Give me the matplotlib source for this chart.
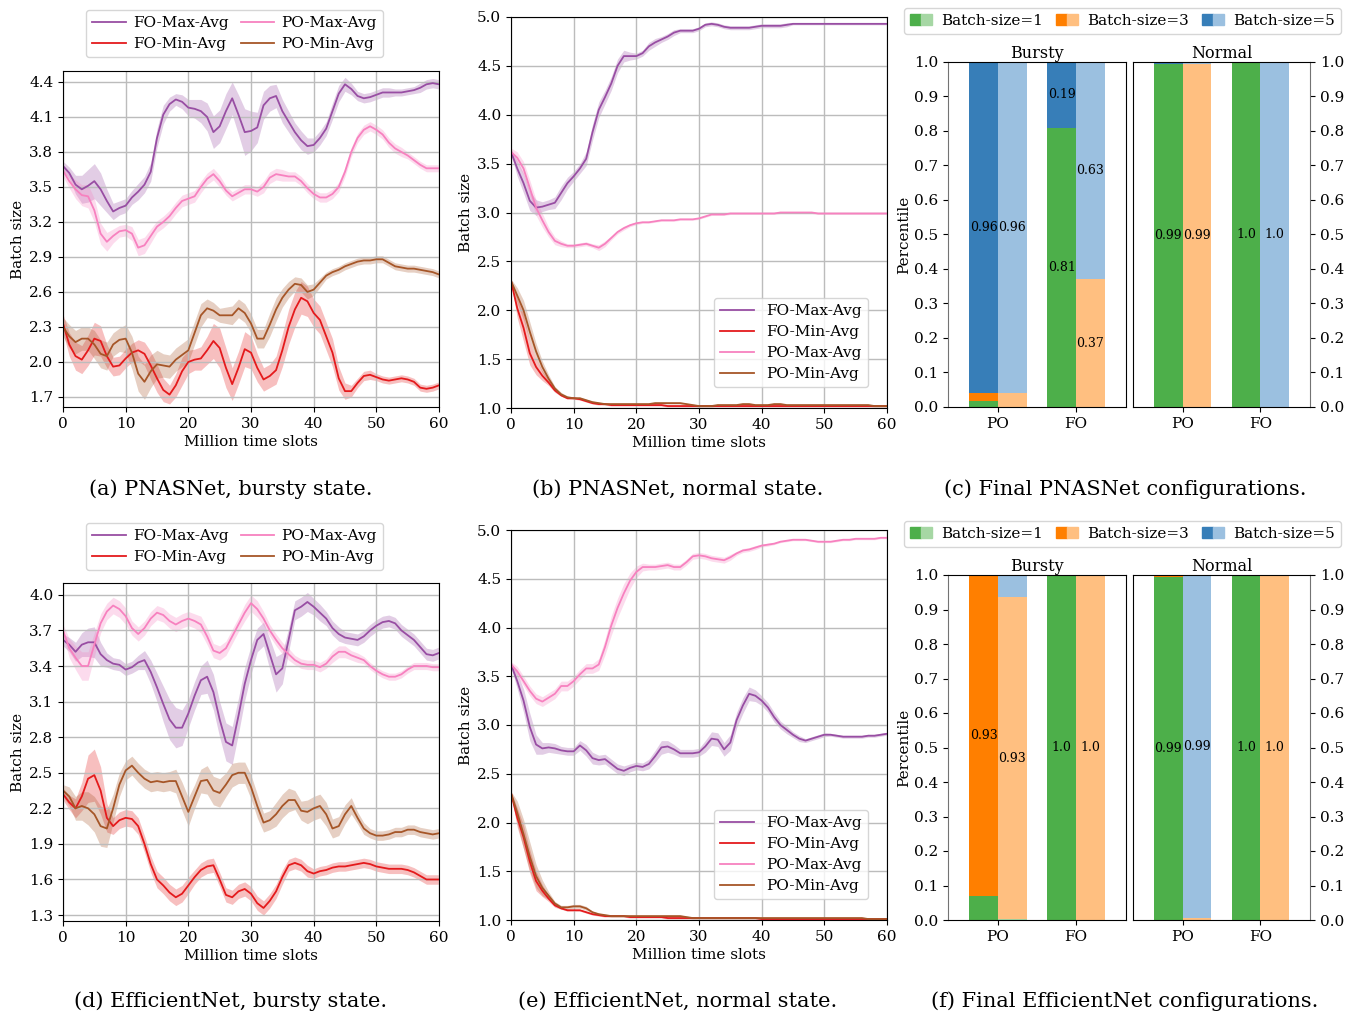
import numpy as np
import matplotlib
matplotlib.use("Agg")
import matplotlib.pyplot as plt
from matplotlib.patches import Patch
from matplotlib.legend_handler import HandlerTuple

plt.rcParams['font.family'] = 'DejaVu Serif'
plt.rcParams['font.size'] = 11

# ---------------- data ----------------
time_slots = list(range(61))  # million time slots
series_names = ['FO-Max-Avg', 'FO-Min-Avg', 'PO-Max-Avg', 'PO-Min-Avg']
line_colors = ['#984ea3', '#e41a1c', '#f781bf', '#a65628']

# (a) PNASNet, bursty state: mean and half band
pnas_bursty_fo_max = [3.68, 3.62, 3.52, 3.48, 3.51, 3.55, 3.48, 3.38, 3.29, 3.32,
                      3.34, 3.41, 3.46, 3.52, 3.63, 3.92, 4.12, 4.21, 4.25, 4.23,
                      4.18, 4.17, 4.15, 4.10, 3.97, 4.02, 4.15, 4.26, 4.12, 3.97,
                      3.98, 4.01, 4.20, 4.26, 4.28, 4.15, 4.06, 3.97, 3.90, 3.85,
                      3.86, 3.92, 4.00, 4.15, 4.30, 4.38, 4.34, 4.28, 4.26, 4.27,
                      4.29, 4.31, 4.31, 4.31, 4.31, 4.32, 4.33, 4.35, 4.38, 4.39, 4.38]
pnas_bursty_fo_max_sd = [0.04, 0.05, 0.08, 0.12, 0.14, 0.15, 0.14, 0.10, 0.07, 0.06,
                         0.06, 0.06, 0.07, 0.07, 0.08, 0.08, 0.08, 0.06, 0.05, 0.06,
                         0.07, 0.08, 0.10, 0.12, 0.14, 0.14, 0.15, 0.14, 0.17, 0.20,
                         0.17, 0.13, 0.12, 0.11, 0.10, 0.10, 0.09, 0.08, 0.08, 0.07,
                         0.06, 0.06, 0.06, 0.07, 0.07, 0.06, 0.05, 0.04, 0.04, 0.04,
                         0.04, 0.04, 0.04, 0.03, 0.03, 0.03, 0.03, 0.04, 0.04, 0.04, 0.04]
pnas_bursty_fo_min = [2.33, 2.15, 2.05, 2.02, 2.10, 2.20, 2.18, 2.05, 1.96, 1.97,
                      2.03, 2.08, 2.10, 2.07, 1.97, 1.86, 1.76, 1.72, 1.80, 1.92,
                      2.00, 2.02, 2.03, 2.10, 2.18, 2.12, 1.95, 1.81, 1.95, 2.11,
                      2.08, 1.95, 1.85, 1.88, 1.93, 2.10, 2.30, 2.45, 2.55, 2.52,
                      2.42, 2.36, 2.22, 2.08, 1.86, 1.75, 1.75, 1.82, 1.88, 1.89,
                      1.87, 1.85, 1.84, 1.85, 1.86, 1.85, 1.83, 1.78, 1.77, 1.78, 1.80]
pnas_bursty_fo_min_sd = [0.08, 0.10, 0.12, 0.12, 0.13, 0.14, 0.13, 0.10, 0.08, 0.08,
                         0.08, 0.08, 0.09, 0.10, 0.12, 0.12, 0.10, 0.08, 0.10, 0.12,
                         0.10, 0.09, 0.10, 0.12, 0.15, 0.17, 0.17, 0.14, 0.14, 0.15,
                         0.14, 0.12, 0.10, 0.10, 0.12, 0.14, 0.15, 0.15, 0.14, 0.13,
                         0.12, 0.12, 0.12, 0.12, 0.10, 0.07, 0.05, 0.04, 0.04, 0.04,
                         0.03, 0.03, 0.03, 0.03, 0.03, 0.03, 0.03, 0.03, 0.03, 0.03, 0.03]
pnas_bursty_po_max = [3.64, 3.55, 3.48, 3.43, 3.42, 3.30, 3.10, 3.03, 3.08, 3.12,
                      3.13, 3.10, 2.98, 3.00, 3.08, 3.16, 3.20, 3.25, 3.32, 3.38,
                      3.40, 3.42, 3.50, 3.57, 3.61, 3.55, 3.47, 3.42, 3.45, 3.48,
                      3.48, 3.46, 3.50, 3.58, 3.61, 3.60, 3.59, 3.59, 3.55, 3.49,
                      3.44, 3.41, 3.41, 3.44, 3.50, 3.63, 3.80, 3.92, 3.99, 4.02,
                      3.99, 3.95, 3.88, 3.83, 3.80, 3.77, 3.73, 3.69, 3.66, 3.66, 3.66]
pnas_bursty_po_max_sd = [0.05, 0.06, 0.08, 0.09, 0.10, 0.10, 0.09, 0.08, 0.06, 0.05,
                         0.05, 0.06, 0.07, 0.07, 0.06, 0.05, 0.05, 0.05, 0.05, 0.05,
                         0.05, 0.05, 0.05, 0.05, 0.05, 0.05, 0.04, 0.04, 0.04, 0.04,
                         0.04, 0.04, 0.05, 0.05, 0.05, 0.05, 0.04, 0.04, 0.04, 0.04,
                         0.04, 0.04, 0.04, 0.04, 0.04, 0.04, 0.04, 0.04, 0.04, 0.04,
                         0.04, 0.04, 0.04, 0.04, 0.04, 0.03, 0.03, 0.03, 0.03, 0.03, 0.03]
pnas_bursty_po_min = [2.30, 2.22, 2.17, 2.20, 2.20, 2.15, 2.07, 2.05, 2.15, 2.19,
                      2.20, 2.08, 1.90, 1.83, 1.92, 1.98, 1.97, 1.96, 2.02, 2.06,
                      2.10, 2.25, 2.40, 2.46, 2.44, 2.40, 2.40, 2.40, 2.46, 2.42,
                      2.33, 2.20, 2.20, 2.32, 2.45, 2.55, 2.62, 2.67, 2.66, 2.60,
                      2.62, 2.68, 2.74, 2.77, 2.79, 2.82, 2.84, 2.86, 2.87, 2.87,
                      2.88, 2.88, 2.85, 2.82, 2.81, 2.80, 2.80, 2.79, 2.78, 2.77, 2.75]
pnas_bursty_po_min_sd = [0.08, 0.10, 0.10, 0.10, 0.10, 0.12, 0.12, 0.12, 0.10, 0.10,
                         0.12, 0.14, 0.15, 0.15, 0.14, 0.12, 0.10, 0.10, 0.10, 0.10,
                         0.10, 0.10, 0.10, 0.08, 0.07, 0.06, 0.07, 0.08, 0.08, 0.08,
                         0.08, 0.08, 0.08, 0.10, 0.10, 0.08, 0.07, 0.06, 0.06, 0.06,
                         0.05, 0.04, 0.03, 0.03, 0.03, 0.03, 0.03, 0.03, 0.03, 0.03,
                         0.03, 0.03, 0.03, 0.03, 0.03, 0.03, 0.03, 0.03, 0.03, 0.03, 0.03]

# (b) PNASNet, normal state
pnas_normal_fo_max = [3.62, 3.45, 3.30, 3.12, 3.05, 3.06, 3.08, 3.10, 3.20, 3.30,
                      3.37, 3.45, 3.55, 3.82, 4.05, 4.18, 4.32, 4.50, 4.60, 4.60,
                      4.60, 4.63, 4.70, 4.74, 4.77, 4.80, 4.84, 4.86, 4.86, 4.86,
                      4.88, 4.92, 4.93, 4.92, 4.90, 4.89, 4.89, 4.89, 4.89, 4.90,
                      4.91, 4.91, 4.91, 4.91, 4.92, 4.93, 4.93, 4.93, 4.93, 4.93,
                      4.93, 4.93, 4.93, 4.93, 4.93, 4.93, 4.93, 4.93, 4.93, 4.93, 4.93]
pnas_normal_fo_max_sd = [0.03, 0.08, 0.10, 0.10, 0.08, 0.05, 0.05, 0.06, 0.07, 0.06,
                         0.05, 0.05, 0.07, 0.08, 0.08, 0.07, 0.07, 0.07, 0.06, 0.04,
                         0.03, 0.03, 0.04, 0.04, 0.03, 0.03, 0.03, 0.02, 0.02, 0.02,
                         0.02, 0.02, 0.02, 0.02, 0.02, 0.02, 0.02, 0.02, 0.02, 0.02,
                         0.02, 0.02, 0.02, 0.02, 0.02, 0.01, 0.01, 0.01, 0.01, 0.01,
                         0.01, 0.01, 0.01, 0.01, 0.01, 0.01, 0.01, 0.01, 0.01, 0.01, 0.01]
pnas_normal_fo_min = [2.30, 2.02, 1.82, 1.56, 1.42, 1.33, 1.26, 1.18, 1.13, 1.10,
                      1.10, 1.09, 1.07, 1.05, 1.04, 1.04, 1.03, 1.03, 1.03, 1.03,
                      1.03, 1.03, 1.03, 1.03, 1.03, 1.02, 1.02, 1.02, 1.02, 1.02,
                      1.02, 1.02, 1.02, 1.02, 1.02, 1.02, 1.02, 1.02, 1.02, 1.02,
                      1.02, 1.02, 1.02, 1.02, 1.02, 1.02, 1.02, 1.02, 1.02, 1.02,
                      1.02, 1.02, 1.02, 1.02, 1.02, 1.02, 1.02, 1.02, 1.02, 1.02, 1.02]
pnas_normal_fo_min_sd = [0.02, 0.10, 0.14, 0.12, 0.08, 0.05, 0.03, 0.02, 0.01, 0.01,
                         0.01, 0.01, 0.01, 0.01, 0.01, 0.01, 0.01, 0.01, 0.01, 0.01,
                         0.01, 0.01, 0.01, 0.01, 0.01, 0.01, 0.01, 0.01, 0.01, 0.01,
                         0.01, 0.01, 0.01, 0.01, 0.01, 0.01, 0.01, 0.01, 0.01, 0.01,
                         0.01, 0.01, 0.01, 0.01, 0.01, 0.01, 0.01, 0.01, 0.01, 0.01,
                         0.01, 0.01, 0.01, 0.01, 0.01, 0.01, 0.01, 0.01, 0.01, 0.01, 0.01]
pnas_normal_po_max = [3.62, 3.56, 3.45, 3.25, 3.05, 2.92, 2.80, 2.71, 2.68, 2.66,
                      2.66, 2.67, 2.68, 2.66, 2.64, 2.68, 2.74, 2.80, 2.84, 2.87,
                      2.89, 2.90, 2.90, 2.91, 2.92, 2.92, 2.92, 2.93, 2.93, 2.93,
                      2.94, 2.96, 2.98, 2.98, 2.98, 2.99, 2.99, 2.99, 2.99, 2.99,
                      2.99, 2.99, 2.99, 3.00, 3.00, 3.00, 3.00, 3.00, 3.00, 2.99,
                      2.99, 2.99, 2.99, 2.99, 2.99, 2.99, 2.99, 2.99, 2.99, 2.99, 2.99]
pnas_normal_po_max_sd = [0.04, 0.06, 0.07, 0.08, 0.08, 0.07, 0.05, 0.04, 0.03, 0.02,
                         0.02, 0.02, 0.02, 0.02, 0.03, 0.03, 0.02, 0.02, 0.02, 0.015,
                         0.015, 0.01, 0.01, 0.01, 0.01, 0.01, 0.01, 0.01, 0.01, 0.01,
                         0.01, 0.01, 0.01, 0.01, 0.01, 0.01, 0.01, 0.01, 0.01, 0.01,
                         0.01, 0.01, 0.01, 0.01, 0.01, 0.01, 0.01, 0.01, 0.01, 0.01,
                         0.01, 0.01, 0.01, 0.01, 0.01, 0.01, 0.01, 0.01, 0.01, 0.01, 0.01]
pnas_normal_po_min = [2.30, 2.15, 2.00, 1.78, 1.58, 1.42, 1.30, 1.20, 1.14, 1.11,
                      1.10, 1.10, 1.08, 1.06, 1.05, 1.04, 1.04, 1.04, 1.04, 1.04,
                      1.04, 1.04, 1.04, 1.05, 1.05, 1.05, 1.05, 1.05, 1.04, 1.03,
                      1.02, 1.02, 1.02, 1.03, 1.03, 1.03, 1.03, 1.04, 1.04, 1.03,
                      1.03, 1.03, 1.04, 1.04, 1.03, 1.03, 1.03, 1.03, 1.03, 1.03,
                      1.03, 1.03, 1.03, 1.03, 1.03, 1.03, 1.03, 1.03, 1.02, 1.02, 1.02]
pnas_normal_po_min_sd = [0.02, 0.08, 0.10, 0.10, 0.08, 0.06, 0.04, 0.02, 0.02, 0.01,
                         0.01, 0.01, 0.01, 0.01, 0.01, 0.01, 0.01, 0.01, 0.01, 0.01,
                         0.01, 0.01, 0.01, 0.01, 0.01, 0.01, 0.01, 0.01, 0.01, 0.01,
                         0.01, 0.01, 0.01, 0.01, 0.01, 0.01, 0.01, 0.01, 0.01, 0.01,
                         0.01, 0.01, 0.01, 0.01, 0.01, 0.01, 0.01, 0.01, 0.01, 0.01,
                         0.01, 0.01, 0.01, 0.01, 0.01, 0.01, 0.01, 0.01, 0.01, 0.01, 0.01]

# (d) EfficientNet, bursty state
eff_bursty_fo_max = [3.62, 3.58, 3.52, 3.58, 3.60, 3.60, 3.50, 3.45, 3.42, 3.41,
                     3.37, 3.39, 3.43, 3.45, 3.35, 3.22, 3.08, 2.95, 2.88, 2.88,
                     3.00, 3.15, 3.28, 3.31, 3.18, 2.95, 2.76, 2.73, 2.98, 3.25,
                     3.45, 3.62, 3.67, 3.50, 3.33, 3.38, 3.62, 3.87, 3.90, 3.94,
                     3.90, 3.85, 3.80, 3.72, 3.67, 3.64, 3.63, 3.62, 3.65, 3.70,
                     3.74, 3.77, 3.78, 3.76, 3.70, 3.66, 3.62, 3.56, 3.50, 3.49, 3.51]
eff_bursty_fo_max_sd = [0.05, 0.06, 0.08, 0.10, 0.12, 0.13, 0.10, 0.06, 0.05, 0.05,
                        0.05, 0.05, 0.06, 0.08, 0.10, 0.12, 0.15, 0.17, 0.17, 0.15,
                        0.12, 0.12, 0.12, 0.14, 0.15, 0.15, 0.16, 0.16, 0.15, 0.14,
                        0.12, 0.10, 0.10, 0.13, 0.15, 0.13, 0.10, 0.08, 0.08, 0.08,
                        0.07, 0.07, 0.06, 0.06, 0.06, 0.05, 0.05, 0.05, 0.05, 0.05,
                        0.05, 0.05, 0.05, 0.05, 0.05, 0.05, 0.05, 0.05, 0.05, 0.05, 0.05]
eff_bursty_fo_min = [2.32, 2.25, 2.20, 2.30, 2.45, 2.48, 2.35, 2.12, 2.05, 2.10,
                     2.12, 2.11, 2.05, 1.90, 1.73, 1.60, 1.55, 1.49, 1.45, 1.48,
                     1.55, 1.62, 1.68, 1.71, 1.72, 1.60, 1.47, 1.45, 1.50, 1.52,
                     1.48, 1.40, 1.36, 1.42, 1.50, 1.62, 1.72, 1.74, 1.72, 1.67,
                     1.65, 1.67, 1.68, 1.70, 1.71, 1.71, 1.72, 1.73, 1.74, 1.73,
                     1.71, 1.70, 1.69, 1.69, 1.69, 1.68, 1.66, 1.63, 1.60, 1.60, 1.60]
eff_bursty_fo_min_sd = [0.05, 0.06, 0.08, 0.12, 0.20, 0.22, 0.20, 0.12, 0.07, 0.07,
                        0.07, 0.07, 0.07, 0.07, 0.07, 0.07, 0.07, 0.07, 0.07, 0.07,
                        0.07, 0.06, 0.06, 0.06, 0.06, 0.06, 0.06, 0.06, 0.06, 0.06,
                        0.06, 0.06, 0.06, 0.06, 0.06, 0.06, 0.05, 0.05, 0.05, 0.05,
                        0.04, 0.04, 0.04, 0.04, 0.04, 0.04, 0.04, 0.04, 0.04, 0.04,
                        0.04, 0.04, 0.04, 0.04, 0.04, 0.04, 0.04, 0.04, 0.04, 0.04, 0.04]
eff_bursty_po_max = [3.70, 3.55, 3.47, 3.40, 3.40, 3.58, 3.76, 3.86, 3.91, 3.88,
                     3.82, 3.72, 3.67, 3.72, 3.80, 3.85, 3.83, 3.78, 3.75, 3.78,
                     3.80, 3.78, 3.75, 3.65, 3.53, 3.51, 3.55, 3.65, 3.75, 3.85,
                     3.93, 3.88, 3.80, 3.70, 3.62, 3.55, 3.50, 3.45, 3.42, 3.41,
                     3.41, 3.39, 3.42, 3.48, 3.52, 3.52, 3.49, 3.47, 3.45, 3.40,
                     3.36, 3.33, 3.31, 3.31, 3.33, 3.37, 3.40, 3.40, 3.40, 3.39, 3.39]
eff_bursty_po_max_sd = [0.05, 0.08, 0.10, 0.12, 0.12, 0.10, 0.08, 0.07, 0.07, 0.07,
                        0.07, 0.06, 0.06, 0.06, 0.06, 0.06, 0.06, 0.06, 0.06, 0.06,
                        0.06, 0.06, 0.07, 0.07, 0.06, 0.06, 0.06, 0.06, 0.06, 0.07,
                        0.07, 0.07, 0.06, 0.05, 0.05, 0.05, 0.05, 0.04, 0.04, 0.04,
                        0.04, 0.04, 0.04, 0.05, 0.05, 0.05, 0.04, 0.04, 0.03, 0.03,
                        0.03, 0.03, 0.03, 0.03, 0.03, 0.03, 0.03, 0.03, 0.03, 0.03, 0.03]
eff_bursty_po_min = [2.35, 2.30, 2.20, 2.22, 2.20, 2.15, 2.05, 2.03, 2.20, 2.40,
                     2.52, 2.56, 2.50, 2.45, 2.42, 2.43, 2.42, 2.43, 2.43, 2.30,
                     2.17, 2.30, 2.43, 2.44, 2.35, 2.33, 2.40, 2.48, 2.50, 2.50,
                     2.38, 2.22, 2.08, 2.10, 2.15, 2.22, 2.27, 2.27, 2.18, 2.17,
                     2.20, 2.22, 2.15, 2.03, 2.05, 2.15, 2.22, 2.12, 2.03, 1.99,
                     1.97, 1.97, 1.98, 2.00, 2.00, 2.02, 2.02, 2.00, 1.99, 1.98, 1.99]
eff_bursty_po_min_sd = [0.05, 0.08, 0.10, 0.12, 0.14, 0.15, 0.17, 0.16, 0.12, 0.10,
                        0.08, 0.08, 0.08, 0.08, 0.08, 0.08, 0.08, 0.08, 0.10, 0.12,
                        0.12, 0.10, 0.10, 0.12, 0.12, 0.12, 0.10, 0.10, 0.09, 0.09,
                        0.10, 0.10, 0.08, 0.08, 0.10, 0.10, 0.10, 0.08, 0.08, 0.10,
                        0.10, 0.10, 0.10, 0.08, 0.08, 0.08, 0.07, 0.05, 0.05, 0.04,
                        0.04, 0.04, 0.04, 0.04, 0.04, 0.04, 0.04, 0.04, 0.04, 0.04, 0.04]

# (e) EfficientNet, normal state
eff_normal_fo_max = [3.62, 3.45, 3.25, 2.98, 2.80, 2.76, 2.77, 2.76, 2.74, 2.73,
                     2.73, 2.79, 2.74, 2.66, 2.64, 2.65, 2.60, 2.55, 2.53, 2.56,
                     2.58, 2.57, 2.60, 2.68, 2.77, 2.78, 2.75, 2.71, 2.71, 2.71,
                     2.72, 2.78, 2.86, 2.85, 2.75, 2.82, 3.05, 3.20, 3.32, 3.30,
                     3.25, 3.18, 3.08, 3.00, 2.95, 2.90, 2.86, 2.84, 2.86, 2.88,
                     2.90, 2.90, 2.89, 2.88, 2.88, 2.88, 2.88, 2.89, 2.89, 2.90, 2.91]
eff_normal_fo_max_sd = [0.03, 0.08, 0.12, 0.14, 0.10, 0.06, 0.05, 0.05, 0.04, 0.04,
                        0.04, 0.05, 0.06, 0.06, 0.05, 0.05, 0.05, 0.05, 0.05, 0.04,
                        0.04, 0.04, 0.05, 0.06, 0.07, 0.06, 0.05, 0.04, 0.04, 0.04,
                        0.04, 0.06, 0.07, 0.07, 0.07, 0.08, 0.08, 0.08, 0.07, 0.06,
                        0.05, 0.05, 0.05, 0.04, 0.04, 0.03, 0.03, 0.02, 0.02, 0.02,
                        0.02, 0.015, 0.015, 0.015, 0.015, 0.015, 0.015, 0.015, 0.015, 0.015, 0.015]
eff_normal_fo_min = [2.30, 2.05, 1.85, 1.60, 1.40, 1.30, 1.22, 1.15, 1.12, 1.10,
                     1.10, 1.10, 1.08, 1.06, 1.05, 1.04, 1.04, 1.04, 1.04, 1.03,
                     1.03, 1.03, 1.03, 1.03, 1.03, 1.02, 1.02, 1.02, 1.02, 1.02,
                     1.02, 1.02, 1.02, 1.02, 1.02, 1.02, 1.02, 1.02, 1.02, 1.02,
                     1.01, 1.01, 1.01, 1.01, 1.01, 1.01, 1.01, 1.01, 1.01, 1.01,
                     1.01, 1.01, 1.01, 1.01, 1.01, 1.01, 1.01, 1.01, 1.01, 1.01, 1.01]
eff_normal_fo_min_sd = [0.02, 0.10, 0.12, 0.12, 0.10, 0.06, 0.03, 0.02, 0.01, 0.01,
                        0.01, 0.01, 0.01, 0.01, 0.01, 0.01, 0.01, 0.01, 0.01, 0.01,
                        0.01, 0.01, 0.01, 0.01, 0.01, 0.01, 0.01, 0.01, 0.01, 0.01,
                        0.01, 0.01, 0.01, 0.01, 0.01, 0.01, 0.01, 0.01, 0.01, 0.01,
                        0.01, 0.01, 0.01, 0.01, 0.01, 0.01, 0.01, 0.01, 0.01, 0.01,
                        0.01, 0.01, 0.01, 0.01, 0.01, 0.01, 0.01, 0.01, 0.01, 0.01, 0.01]
eff_normal_po_max = [3.62, 3.55, 3.45, 3.35, 3.27, 3.24, 3.28, 3.32, 3.40, 3.40,
                     3.45, 3.52, 3.58, 3.58, 3.62, 3.80, 4.02, 4.20, 4.35, 4.48,
                     4.57, 4.62, 4.62, 4.62, 4.63, 4.64, 4.62, 4.62, 4.67, 4.73,
                     4.74, 4.73, 4.71, 4.70, 4.69, 4.72, 4.76, 4.79, 4.80, 4.82,
                     4.84, 4.85, 4.86, 4.88, 4.89, 4.90, 4.90, 4.90, 4.89, 4.88,
                     4.88, 4.88, 4.89, 4.90, 4.90, 4.91, 4.91, 4.91, 4.91, 4.92, 4.92]
eff_normal_po_max_sd = [0.03, 0.05, 0.05, 0.05, 0.05, 0.05, 0.05, 0.05, 0.05, 0.05,
                        0.05, 0.05, 0.05, 0.05, 0.06, 0.08, 0.10, 0.10, 0.10, 0.08,
                        0.06, 0.04, 0.03, 0.03, 0.03, 0.03, 0.03, 0.03, 0.03, 0.03,
                        0.03, 0.03, 0.03, 0.03, 0.03, 0.03, 0.02, 0.02, 0.02, 0.02,
                        0.015, 0.015, 0.01, 0.01, 0.01, 0.01, 0.01, 0.01, 0.01, 0.01,
                        0.01, 0.01, 0.01, 0.01, 0.01, 0.01, 0.01, 0.01, 0.01, 0.01, 0.01]
eff_normal_po_min = [2.30, 2.10, 1.88, 1.65, 1.45, 1.33, 1.25, 1.17, 1.13, 1.13,
                     1.14, 1.14, 1.12, 1.08, 1.06, 1.05, 1.04, 1.04, 1.04, 1.04,
                     1.04, 1.04, 1.04, 1.04, 1.04, 1.04, 1.04, 1.04, 1.03, 1.02,
                     1.02, 1.02, 1.02, 1.02, 1.02, 1.02, 1.02, 1.02, 1.02, 1.02,
                     1.02, 1.02, 1.02, 1.02, 1.02, 1.02, 1.02, 1.02, 1.02, 1.02,
                     1.02, 1.02, 1.02, 1.02, 1.02, 1.02, 1.02, 1.01, 1.01, 1.01, 1.01]
eff_normal_po_min_sd = [0.02, 0.12, 0.15, 0.15, 0.12, 0.08, 0.04, 0.02, 0.02, 0.02,
                        0.02, 0.02, 0.02, 0.01, 0.01, 0.01, 0.01, 0.01, 0.01, 0.01,
                        0.01, 0.01, 0.01, 0.01, 0.01, 0.01, 0.01, 0.01, 0.01, 0.01,
                        0.01, 0.01, 0.01, 0.01, 0.01, 0.01, 0.01, 0.01, 0.01, 0.01,
                        0.01, 0.01, 0.01, 0.01, 0.01, 0.01, 0.01, 0.01, 0.01, 0.01,
                        0.01, 0.01, 0.01, 0.01, 0.01, 0.01, 0.01, 0.01, 0.01, 0.01, 0.01]

# final configurations: share of batch size 1 / 3 / 5, per approach (PO, FO)
approaches = ['PO', 'FO']
batch_labels = ['Batch-size=1', 'Batch-size=3', 'Batch-size=5']
bar_colors = [('#4daf4a', '#a6d7a4'), ('#ff7f00', '#ffbf80'), ('#377eb8', '#9bc0e0')]

pnas_bursty_dark = [[0.018, 0.022, 0.96], [0.81, 0.0, 0.19]]
pnas_bursty_light = [[0.0, 0.04, 0.96], [0.0, 0.37, 0.63]]
pnas_normal_dark = [[0.993, 0.0, 0.007], [1.0, 0.0, 0.0]]
pnas_normal_light = [[0.0, 0.993, 0.007], [0.0, 0.0, 1.0]]
eff_bursty_dark = [[0.07, 0.93, 0.0], [1.0, 0.0, 0.0]]
eff_bursty_light = [[0.003, 0.932, 0.065], [0.0, 1.0, 0.0]]
eff_normal_dark = [[0.993, 0.007, 0.0], [1.0, 0.0, 0.0]]
eff_normal_light = [[0.0, 0.007, 0.993], [0.0, 1.0, 0.0]]

captions = ['(a) PNASNet, bursty state.', '(b) PNASNet, normal state.',
            '(c) Final PNASNet configurations.', '(d) EfficientNet, bursty state.',
            '(e) EfficientNet, normal state.', '(f) Final EfficientNet configurations.']

# ---------------- layout (pixels) ----------------
W, H = 1352, 1014
fig = plt.figure(figsize=(W / 100, H / 100), dpi=100)


def px_axes(left, top, right, bottom):
    return fig.add_axes([left / W, 1 - bottom / H, (right - left) / W, (bottom - top) / H])


def line_panel(ax, curves, ylim, yticks):
    for name, (mean, sd), color in zip(series_names, curves, line_colors):
        m = np.array(mean)
        s = np.array(sd)
        ax.fill_between(time_slots, m - s, m + s, color=color, alpha=0.28, lw=0)
        ax.plot(time_slots, m, color=color, lw=1.3, label=name)
    ax.set_xlim(0, 60)
    ax.set_ylim(*ylim)
    ax.set_xticks(range(0, 61, 10))
    ax.set_yticks(yticks)
    ax.set_yticklabels(['%.1f' % t for t in yticks])
    ax.grid(True, color='#bcbcbc', lw=1.0)
    ax.set_xlabel('Million time slots', labelpad=3)
    ax.set_ylabel('Batch size', labelpad=3)


def bar_panel(ax, dark, light, title):
    x = np.arange(len(approaches))
    w = 0.37
    for vals, side, shade in ((dark, -1, 0), (light, 1, 1)):
        bottom = np.zeros(len(approaches))
        for k in range(len(batch_labels)):
            seg = np.array([v[k] for v in vals])
            ax.bar(x, seg, width=side * w, align='edge', bottom=bottom,
                   color=bar_colors[k][shade], lw=0)
            for xi, b, s in zip(x, bottom, seg):
                if s >= 0.1:
                    ax.text(xi + side * w / 2, b + s / 2, str(round(s, 2)),
                            ha='center', va='center', fontsize=9)
            bottom += seg
    ax.set_xlim(-0.64, 1.64)
    ax.set_ylim(0, 1)
    ax.set_xticks(x)
    ax.set_xticklabels(approaches)
    ax.set_yticks(np.round(np.arange(0, 1.01, 0.1), 1))
    ax.set_yticklabels(['%.1f' % t for t in np.arange(0, 1.01, 0.1)])
    ax.set_title(title, fontsize=11.5, pad=3)


def bar_legend(top):
    handles = [(Patch(color=d), Patch(color=l)) for d, l in bar_colors]
    fig.legend(handles, batch_labels, handler_map={tuple: HandlerTuple(ndivide=None, pad=0)},
               loc='upper center', bbox_to_anchor=(1122.5 / W, 1 - top / H),
               bbox_transform=fig.transFigure, ncol=3, handlelength=1.4,
               handletextpad=0.6, columnspacing=0.9, borderaxespad=0, fontsize=11)


rows = [
    dict(top_a=71, bot_a=407, top_b=17, bot_b=408, top_c=62, bot_c=407,
         leg_a=10, leg_b=387, leg_c=8, cap=489,
         a=[(pnas_bursty_fo_max, pnas_bursty_fo_max_sd), (pnas_bursty_fo_min, pnas_bursty_fo_min_sd),
            (pnas_bursty_po_max, pnas_bursty_po_max_sd), (pnas_bursty_po_min, pnas_bursty_po_min_sd)],
         a_ylim=(1.614, 4.494), a_ticks=np.round(np.arange(1.7, 4.41, 0.3), 1),
         b=[(pnas_normal_fo_max, pnas_normal_fo_max_sd), (pnas_normal_fo_min, pnas_normal_fo_min_sd),
            (pnas_normal_po_max, pnas_normal_po_max_sd), (pnas_normal_po_min, pnas_normal_po_min_sd)],
         bars=(pnas_bursty_dark, pnas_bursty_light, pnas_normal_dark, pnas_normal_light),
         caps=captions[:3]),
    dict(top_a=583, bot_a=921, top_b=530, bot_b=920, top_c=575, bot_c=920,
         leg_a=523, leg_b=899, leg_c=521, cap=1001,
         a=[(eff_bursty_fo_max, eff_bursty_fo_max_sd), (eff_bursty_fo_min, eff_bursty_fo_min_sd),
            (eff_bursty_po_max, eff_bursty_po_max_sd), (eff_bursty_po_min, eff_bursty_po_min_sd)],
         a_ylim=(1.25, 4.10), a_ticks=np.round(np.arange(1.3, 4.01, 0.3), 1),
         b=[(eff_normal_fo_max, eff_normal_fo_max_sd), (eff_normal_fo_min, eff_normal_fo_min_sd),
            (eff_normal_po_max, eff_normal_po_max_sd), (eff_normal_po_min, eff_normal_po_min_sd)],
         bars=(eff_bursty_dark, eff_bursty_light, eff_normal_dark, eff_normal_light),
         caps=captions[3:]),
]

for r in rows:
    # bursty line panel
    ax = px_axes(63, r['top_a'], 439, r['bot_a'])
    line_panel(ax, r['a'], r['a_ylim'], r['a_ticks'])
    ax.legend(loc='upper center', bbox_to_anchor=(234.5 / W, 1 - r['leg_a'] / H),
              bbox_transform=fig.transFigure, ncol=2, borderaxespad=0,
              handlelength=2.2, handletextpad=0.45, columnspacing=0.8,
              labelspacing=0.45, fontsize=11)

    # normal line panel
    ax = px_axes(511, r['top_b'], 887, r['bot_b'])
    line_panel(ax, r['b'], (1.0, 5.0), np.round(np.arange(1.0, 5.01, 0.5), 1))
    ax.legend(loc='lower right', bbox_to_anchor=(868 / W, 1 - r['leg_b'] / H),
              bbox_transform=fig.transFigure, borderaxespad=0,
              handlelength=2.2, labelspacing=0.45, fontsize=11)

    # final configurations
    bd, bl, nd, nl = r['bars']
    ax1 = px_axes(948, r['top_c'], 1126, r['bot_c'])
    bar_panel(ax1, bd, bl, 'Bursty')
    ax1.set_ylabel('Percentile', labelpad=2)
    ax1.spines['left'].set_color('0.45')
    ax2 = px_axes(1133, r['top_c'], 1310, r['bot_c'])
    bar_panel(ax2, nd, nl, 'Normal')
    ax2.yaxis.tick_right()
    ax2.spines['right'].set_color('0.45')
    bar_legend(r['leg_c'])

    for xc, cap in zip((231, 678, 1125), r['caps']):
        fig.text(xc / W, 1 - r['cap'] / H, cap, ha='center', va='center', fontsize=15)

fig.savefig('out.png', dpi=100)
